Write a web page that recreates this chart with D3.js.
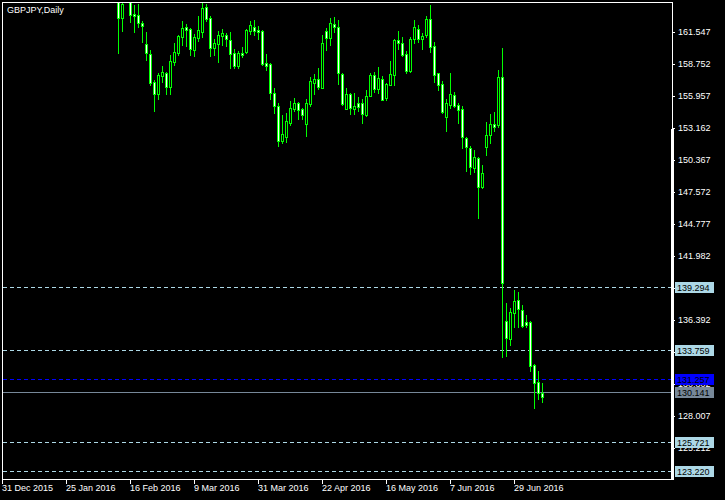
<!DOCTYPE html>
<html><head><meta charset="utf-8">
<script src="https://cdn.jsdelivr.net/npm/d3@7"></script>
<style>html,body{margin:0;padding:0;background:#000;overflow:hidden;} svg{display:block;}</style>
</head><body>
<script>
// ---------- data ----------
const chartTitle = "GBPJPY,Daily";
const firstDate = "2015-12-31";
const lastDate = "2016-07-08";
const holidays = ["2016-01-01"];
const firstBarDate = "2016-02-11";
// OHLC from 11 Feb 2016 (null = bar entirely above the visible range)
const open = [164.60,162.741,null,165.50,163.119,163.032,162.333,160.499,159.625,157.180,
156.161,157.733,157.995,156.772,158.927,159.742,161.139,161.955,161.780,160.004,
161.052,161.518,163.701,162.741,160.179,160.528,161.227,161.285,160.819,159.713,
158.606,159.713,159.800,161.663,161.955,161.751,161.605,158.839,158.723,156.190,
155.054,152.055,152.347,153.628,154.821,155.345,154.792,153.540,155.229,157.121,
157.413,156.685,161.663,160.994,162.246,161.955,157.849,154.851,156.132,154.821,
155.316,155.316,154.297,155.986,157.762,156.568,157.413,155.782,156.918,157.820,
160.848,160.557,159.625,158.111,160.936,161.780,160.965,161.314,162.682,160.324,
157.966,156.976,154.152,155.200,156.015,155.142,154.821,152.318,151.415,149.639,
150.541,148.008,151.473,152.521,153.511,153.424,157.616,136.304,134.703,136.974,
138.110,137.236,136.188,136.246,132.461,130.947,130.016];
const high = [164.90,164.30,null,165.80,163.905,163.993,162.479,161.547,159.975,157.354,
157.995,158.606,158.082,159.538,160.615,161.314,162.508,162.246,161.896,161.401,
162.974,164.109,163.993,162.974,160.906,161.605,161.809,161.430,161.547,160.033,
159.887,160.237,161.780,162.508,162.595,162.071,161.722,159.625,158.810,156.656,
155.316,154.297,154.472,155.520,155.753,155.433,154.938,155.695,157.646,157.878,
158.373,161.285,161.896,162.741,162.828,162.595,157.937,156.656,156.219,156.190,
155.840,155.666,156.481,157.966,158.053,158.490,157.704,157.121,159.043,160.906,
161.605,161.110,159.917,161.139,162.595,162.158,161.460,162.945,163.905,160.674,
157.966,157.267,155.695,157.966,156.306,155.316,155.083,152.405,151.619,151.240,
150.658,149.959,153.686,154.385,154.559,158.257,160.149,137.906,137.469,139.012,
138.837,137.702,136.799,136.304,132.519,131.937,130.889];
const low = [159.742,161.663,null,162.450,161.576,162.013,160.703,159.101,156.918,154.676,
155.724,157.209,156.161,156.161,158.694,159.538,160.441,160.353,159.567,159.480,
160.732,161.110,162.537,159.480,159.567,158.956,160.382,160.353,158.432,158.432,
158.432,159.363,159.684,161.343,161.314,160.906,158.665,158.199,155.724,154.501,
151.619,151.881,151.968,153.424,154.647,153.919,153.919,152.463,155.083,156.132,
156.539,156.627,159.975,160.411,161.547,157.005,155.200,154.821,154.385,154.385,
154.647,153.628,154.210,155.928,156.306,156.219,155.607,155.607,156.918,156.918,
160.091,159.451,157.966,158.082,160.615,160.703,160.062,161.139,159.829,157.209,
156.481,154.501,152.929,154.938,154.967,153.628,151.444,149.435,149.173,149.290,
145.330,147.892,150.833,151.881,152.871,153.278,133.189,133.247,134.237,135.809,
135.809,135.751,135.809,131.966,128.735,129.492,129.259];
const close = [162.741,163.993,null,163.061,162.974,162.304,162.100,159.742,157.121,156.161,
157.791,158.024,156.772,159.014,159.771,161.198,161.896,161.751,160.091,161.081,
161.722,163.643,162.712,160.179,160.586,161.285,161.460,160.906,159.654,158.606,
159.713,159.509,161.722,162.129,161.663,161.576,158.723,158.606,156.190,155.054,
152.055,152.609,153.744,154.880,155.316,154.763,154.326,155.345,157.238,157.442,
156.772,160.557,160.994,162.304,162.013,157.937,155.258,156.102,154.909,155.083,
155.025,154.385,155.986,157.762,156.597,157.500,155.637,157.034,157.849,160.848,
160.615,159.538,158.141,160.936,161.955,160.936,161.198,162.682,160.237,157.820,
156.918,154.588,155.316,156.102,155.113,154.734,152.405,151.531,149.726,150.629,
148.038,149.231,152.550,153.511,153.278,157.616,139.594,134.849,137.061,138.022,
137.323,135.868,135.926,132.403,130.918,129.986,129.666];
const priceTicks = [161.547,158.752,155.957,153.162,150.367,147.572,144.777,141.982,139.187,136.392,133.597,130.802,128.007,125.212];
const dateTickLabels = ["31 Dec 2015","25 Jan 2016","16 Feb 2016","9 Mar 2016","31 Mar 2016","22 Apr 2016","16 May 2016","7 Jun 2016","29 Jun 2016"];
const levelPrices = [139.294,133.759,125.721,123.220];
const pendingPrice = 131.257;
const bidPrice = 130.141;

// ---------- colours ----------
const BG = "#000000", FG = "#ffffff", CANDLE = "#00ff00";
const LEVEL = "#add8e6", PENDING = "#0000ff", BID = "#778899";

// ---------- categories (trading days) ----------
const parse = d3.utcParse("%Y-%m-%d"), fmtKey = d3.utcFormat("%Y-%m-%d");
const fmtLabel = d => `${d.getUTCDate()} ${d3.utcFormat("%b %Y")(d)}`;
const dates = d3.utcDays(parse(firstDate), d3.utcDay.offset(parse(lastDate), 1))
  .filter(d => d.getUTCDay() !== 0 && d.getUTCDay() !== 6 && !holidays.includes(fmtKey(d)))
  .map(fmtKey);
const startIdx = dates.indexOf(firstBarDate);
const bars = open.map((o, j) => ({date: dates[startIdx + j], o, h: high[j], l: low[j], c: close[j]}))
  .filter(b => b.o !== null);

// ---------- layout ----------
const W = 725, H = 500;
const L = 2, T = 2, R = 672, B = 479;

const x = d3.scalePoint().domain(dates).range([2, 2 + 4 * (dates.length - 1)]);
const y = d3.scaleLinear().domain([priceTicks[0], priceTicks[priceTicks.length - 1]]).range([32, 448]);
const py = p => Math.round(y(p));

const svg = d3.select("body").append("svg").attr("width", W).attr("height", H)
  .style("background", BG).attr("shape-rendering", "crispEdges");

svg.append("defs").append("clipPath").attr("id", "plot")
  .append("rect").attr("x", L + 1).attr("y", T + 1).attr("width", R - L - 1).attr("height", B - T - 1);

const plot = svg.append("g").attr("clip-path", "url(#plot)");

// horizontal level lines
levelPrices.forEach(p => {
  plot.append("line").attr("x1", L + 1).attr("x2", R).attr("y1", py(p) + 0.5).attr("y2", py(p) + 0.5)
    .attr("stroke", LEVEL).attr("stroke-dasharray", "4,3");
});
plot.append("line").attr("x1", L + 1).attr("x2", R).attr("y1", py(pendingPrice) + 0.5).attr("y2", py(pendingPrice) + 0.5)
  .attr("stroke", PENDING).attr("stroke-dasharray", "4,3");
plot.append("line").attr("x1", L + 1).attr("x2", R).attr("y1", py(bidPrice) + 0.5).attr("y2", py(bidPrice) + 0.5)
  .attr("stroke", BID);

// candles
const cg = plot.selectAll("g.c").data(bars).join("g").attr("class", "c");
cg.append("rect").attr("x", d => x(d.date)).attr("width", 1)
  .attr("y", d => py(d.h)).attr("height", d => py(d.l) - py(d.h) + 1).attr("fill", CANDLE);
cg.append("rect").attr("x", d => x(d.date) - 1).attr("width", 3)
  .attr("y", d => py(Math.max(d.o, d.c)))
  .attr("height", d => py(Math.min(d.o, d.c)) - py(Math.max(d.o, d.c)) + 1).attr("fill", CANDLE);
cg.append("rect").attr("x", d => x(d.date)).attr("width", 1)
  .attr("y", d => py(Math.max(d.o, d.c)) + 1)
  .attr("height", d => Math.max(0, py(Math.min(d.o, d.c)) - py(Math.max(d.o, d.c)) - 1))
  .attr("fill", d => d.c > d.o ? BG : FG);

// frame
svg.append("rect").attr("x", L).attr("y", T).attr("width", R - L + 1).attr("height", 1).attr("fill", FG);
svg.append("rect").attr("x", L).attr("y", B).attr("width", R - L + 1).attr("height", 1).attr("fill", FG);
svg.append("rect").attr("x", L).attr("y", T).attr("width", 1).attr("height", B - T + 1).attr("fill", FG);
svg.append("rect").attr("x", R).attr("y", T).attr("width", 1).attr("height", B - T + 1).attr("fill", FG);
svg.append("rect").attr("x", R - 1).attr("y", py(priceTicks[3]) + 1).attr("width", 3).attr("height", B - py(priceTicks[3])).attr("fill", FG);

const font = "'Liberation Sans', Arial, sans-serif";

// title
svg.append("text").attr("x", 7).attr("y", 13).text(chartTitle)
  .attr("fill", FG).style("font-family", font).style("font-size", "9px");

// price axis
const pa = svg.append("g").attr("transform", `translate(${R},0)`)
  .call(d3.axisRight(y).tickValues(priceTicks).tickSize(3).tickFormat(d3.format(".3f")));
pa.select(".domain").remove();
pa.selectAll(".tick").attr("transform", d => `translate(0,${py(d) + 0.5})`);
pa.selectAll(".tick line").attr("stroke", FG);
pa.selectAll(".tick text").attr("fill", FG).attr("x", 6).attr("dy", "0.32em")
  .style("font-family", font).style("font-size", "9px");

// level labels
function tag(p, fill, txt) {
  const r = py(p);
  svg.append("rect").attr("x", R + 3).attr("y", r - 5).attr("width", 39).attr("height", 11).attr("fill", fill);
  svg.append("text").attr("x", R + 5).attr("y", r + 3.5).text(d3.format(".3f")(p))
    .attr("fill", txt).style("font-family", font).style("font-size", "9px");
}
levelPrices.forEach(p => tag(p, LEVEL, "#000"));
tag(pendingPrice, PENDING, "#000");
tag(bidPrice, BID, "#000");

// date axis
const tickDates = dateTickLabels.map(lbl => dates.find(d => fmtLabel(parse(d)) === lbl));
const da = svg.append("g").attr("transform", `translate(0,${B})`)
  .call(d3.axisBottom(x).tickValues(tickDates).tickSize(5).tickFormat(d => fmtLabel(parse(d))));
da.select(".domain").remove();
da.selectAll(".tick").attr("transform", d => `translate(${x(d) + 0.5},0)`);
da.selectAll(".tick line").attr("stroke", FG);
da.selectAll(".tick text").attr("fill", FG).attr("text-anchor", "start").attr("x", -0.5).attr("y", 6).attr("dy", "0.71em")
  .style("font-family", font).style("font-size", "9px");
</script>
</body></html>
